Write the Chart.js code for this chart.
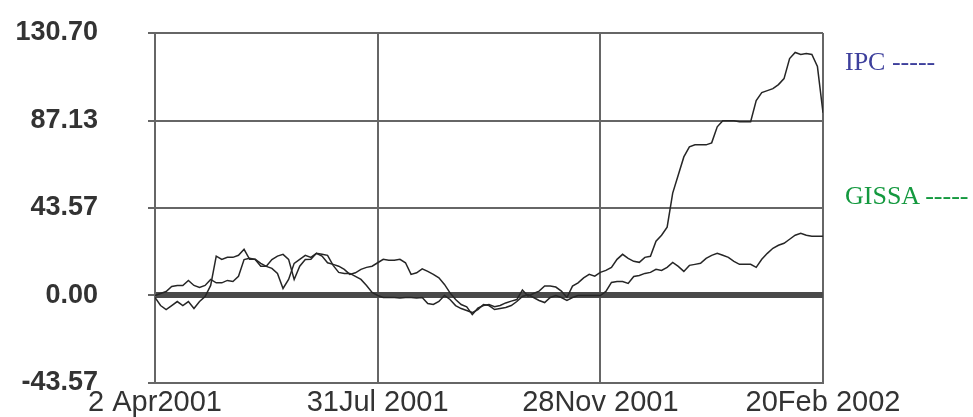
<!DOCTYPE html>
<html>
<head>
<meta charset="utf-8">
<script src="https://cdn.jsdelivr.net/npm/chart.js@4/dist/chart.umd.min.js"></script>
<style>
  html, body { margin: 0; padding: 0; background: #fff; }
  #wrap { position: relative; width: 973px; height: 417px; }
  .legend-label { position: absolute; font-family: "Liberation Serif", "Times New Roman", serif; font-size: 26px; line-height: 26px; white-space: pre; }
</style>
</head>
<body>
<div id="wrap">
  <canvas id="chart" width="973" height="417"></canvas>
  <div class="legend-label" style="left:845px; top:49px; color:#3d3f9c;">IPC -----</div>
  <div class="legend-label" style="left:845px; top:183px; color:#14993f;">GISSA -----</div>
</div>
<script>
// tick labels
const xTickLabels = ['2 Apr2001', '31Jul 2001', '28Nov 2001', '20Feb 2002'];
const xTickIndex = [0, 40, 80, 120];
const yTicks = [-43.57, 0, 43.57, 87.13, 130.70];

// series values, one every sample step from 2 Apr 2001 to 20 Feb 2002
const ipc = [
  0, 1, 2, 4.5, 5, 5, 7.5, 5, 4, 5,
  8, 6.3, 6.3, 7.5, 7, 9.6, 17.9, 18.5, 17.9, 14.6,
  14.6, 17.9, 19.6, 20.5, 18, 8, 14.6, 17.9, 18, 21,
  19.6, 16.3, 15.5, 14.6, 13, 10.5, 11.3, 13, 14, 14.6,
  16.3, 18, 17.6, 17.6, 18, 16.3, 10.5, 11.3, 13.3, 12,
  10.5, 8.8, 5.5, 1.3, -2, -4.5, -5.6, -9.5, -6.3, -5,
  -4.5, -5.6, -5, -3.7, -2.8, -2, 2.7, -0.3, 1, 2.2,
  4.7, 4.7, 4.2, 2.2, -1, 4.7, 6.3, 8.8, 10.5, 9.6,
  11.5, 12.5, 14, 18, 20.5, 18.5, 17, 16.5, 19, 19.5,
  27, 30, 34, 51, 60, 69, 74, 75, 75, 75,
  76, 84, 87, 87, 87, 86.5, 86.5, 86.5, 97, 101,
  102, 103, 105, 108, 118, 121, 120, 120.5, 120, 114,
  91
];
const gissa = [
  -1, -5, -7, -5, -3, -5, -3, -6.5, -3, -0.5,
  5, 19.6, 18, 19, 19, 20, 23, 18, 18, 16,
  14.5, 13.5, 11, 3.5, 8, 16, 18, 20, 19, 21,
  20.5, 20, 15, 11.5, 11, 11, 9.5, 8, 5, 1.5,
  0, -1, -1, -1, -1.2, -1, -1, -1.2, -1, -4,
  -4.5, -3, 0, -2, -5, -6.5, -7.5, -8.5, -7, -4.5,
  -5, -7, -6.5, -6, -5, -3, -0.5, 0.5, -1, -2.5,
  -3.5, -1, 0, -1, -2.5, -1, 0, 0, 0, 0,
  0, 2, 6.5, 7, 7, 6, 9.5, 10, 11, 11.5,
  13, 12.5, 14, 16.5, 14.5, 12, 15, 15.5, 16, 18.5,
  20, 21, 20, 19, 17, 15.5, 15.5, 15.5, 14, 18,
  21, 23.5, 25, 26, 28, 30, 31, 30, 29.5, 29.5,
  29.5
];

const toPoints = arr => arr.map((v, i) => ({ x: i, y: v }));

const lineStyle = {
  borderColor: '#262626',
  borderWidth: 1.5,
  pointRadius: 0,
  tension: 0,
  fill: false
};

new Chart(document.getElementById('chart').getContext('2d'), {
  type: 'line',
  data: {
    datasets: [
      Object.assign({ label: 'IPC', data: toPoints(ipc) }, lineStyle),
      Object.assign({ label: 'GISSA', data: toPoints(gissa) }, lineStyle)
    ]
  },
  options: {
    responsive: false,
    animation: false,
    layout: { padding: { top: 33, right: 150, left: 0, bottom: 0 } },
    plugins: { legend: { display: false }, tooltip: { enabled: false } },
    scales: {
      x: {
        type: 'linear',
        min: 0,
        max: ipc.length - 1,
        afterFit: function(scale) {
          scale.height = 34;
          scale.paddingLeft = 0;
          scale.paddingRight = 0;
        },
        afterBuildTicks: function(scale) {
          scale.ticks = xTickIndex.map(v => ({ value: v }));
        },
        grid: { color: '#666', lineWidth: 2, drawTicks: false },
        border: { color: '#666', width: 2 },
        ticks: {
          padding: 3,
          maxRotation: 0,
          autoSkip: false,
          color: '#333',
          font: { family: 'Liberation Sans, Arial, sans-serif', size: 29 },
          callback: function(value) {
            const i = xTickIndex.indexOf(value);
            return i >= 0 ? xTickLabels[i] : '';
          }
        }
      },
      y: {
        type: 'linear',
        min: yTicks[0],
        max: yTicks[yTicks.length - 1],
        afterFit: function(scale) {
          scale.width = 155;
          scale.paddingTop = 0;
          scale.paddingBottom = 0;
        },
        afterBuildTicks: function(scale) {
          scale.ticks = yTicks.map(v => ({ value: v }));
        },
        grid: {
          color: function(ctx) { return ctx.tick && ctx.tick.value === 0 ? '#4a4a4a' : '#666'; },
          lineWidth: function(ctx) { return ctx.tick && ctx.tick.value === 0 ? 6 : 2; },
          tickLength: 7,
          tickColor: '#666',
          tickWidth: 2
        },
        border: { color: '#666', width: 2 },
        ticks: {
          padding: 50,
          color: '#333',
          font: { family: 'Liberation Sans, Arial, sans-serif', size: 27, weight: 'bold' },
          callback: function(value) { return Number(value).toFixed(2); }
        }
      }
    }
  }
});
</script>
</body>
</html>
